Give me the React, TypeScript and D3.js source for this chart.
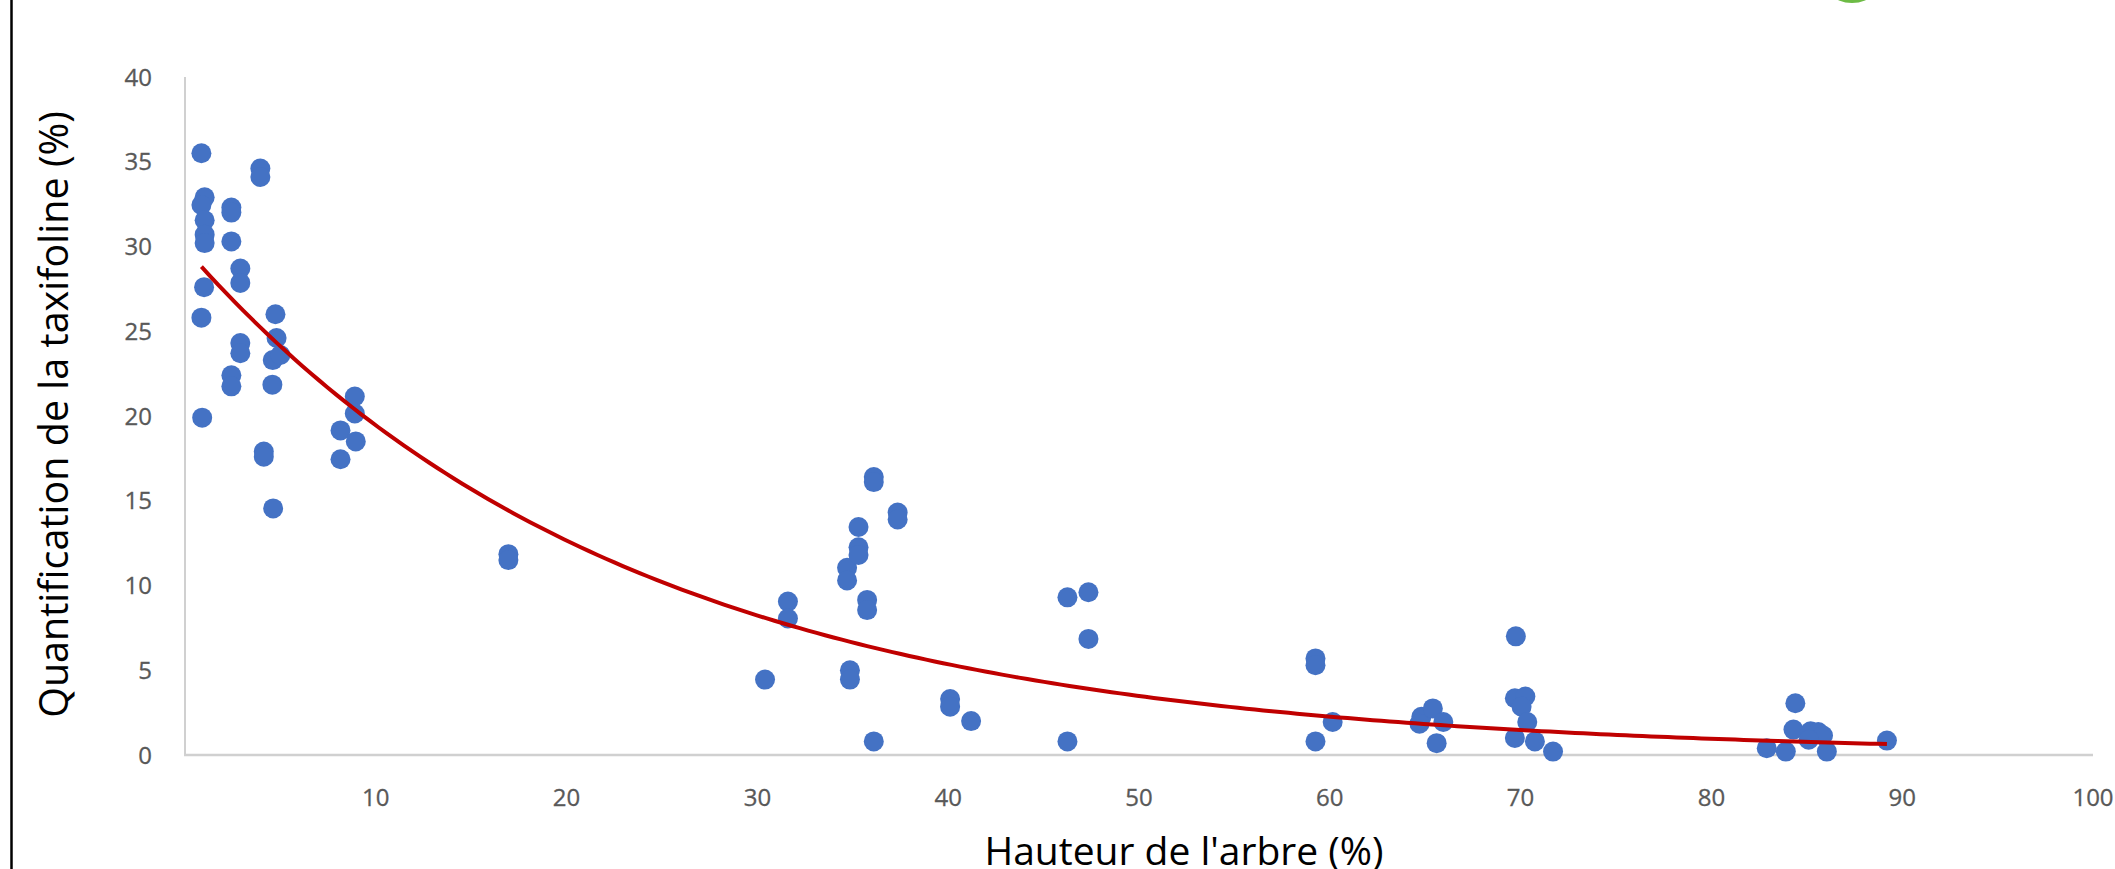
import React from "react";
import * as d3 from "d3";

// Scatter data: tree height (%) vs taxifolin quantification (%)
const HEIGHTS: number[] = [
  0.86, 3.95, 3.95, 1.03, 0.86, 1.03, 1.03, 1.03, 2.43, 2.43,
  2.43, 2.9, 2.9, 1.0, 0.86, 4.74, 4.8, 2.9, 2.9, 4.6,
  5.0, 2.43, 2.43, 4.58, 0.9, 8.9, 8.9, 8.15, 8.95, 8.15,
  4.13, 4.13, 4.62, 16.95, 16.95, 30.4, 31.6, 31.6, 34.7, 34.7,
  34.85, 34.85, 35.3, 35.3, 35.3, 35.75, 35.75, 36.1, 36.1, 36.1,
  37.35, 37.35, 40.1, 40.1, 41.2, 46.25, 46.25, 47.35, 47.35, 59.25,
  59.25, 59.25, 60.15, 64.8, 65.4, 65.95, 64.7, 65.6, 69.75, 69.7,
  70.25, 70.05, 70.35, 69.7, 70.75, 71.7, 82.9, 83.9, 84.4, 84.3,
  85.2, 85.6, 85.85, 85.1, 86.05, 89.2,
];
const TAXIFOLIN: number[] = [
  35.5, 34.6, 34.1, 32.9, 32.45, 31.55, 30.7, 30.2, 32.3, 32.0,
  30.3, 28.7, 27.85, 27.6, 25.8, 26.0, 24.6, 24.3, 23.7, 23.3,
  23.6, 22.4, 21.75, 21.85, 19.9, 21.15, 20.15, 19.15, 18.5, 17.45,
  17.9, 17.6, 14.55, 11.85, 11.5, 4.45, 9.05, 8.05, 11.05, 10.3,
  5.0, 4.45, 13.45, 12.25, 11.8, 9.15, 8.55, 16.4, 16.1, 0.8,
  14.3, 13.9, 3.3, 2.85, 2.0, 9.3, 0.8, 9.6, 6.85, 5.7,
  5.3, 0.8, 1.95, 2.25, 2.75, 1.95, 1.85, 0.7, 7.0, 3.35,
  3.45, 2.85, 1.95, 1.0, 0.8, 0.2, 0.4, 0.2, 3.05, 1.5,
  1.4, 1.35, 1.15, 0.9, 0.2, 0.85,
];

// Exponential trendline y = A * exp(B * x) (coefficients)
const TREND_A = 29.9;
const TREND_B = -0.043;

const X_TICKS: number[] = [10, 20, 30, 40, 50, 60, 70, 80, 90, 100];
const Y_TICKS: number[] = [0, 5, 10, 15, 20, 25, 30, 35, 40];

const X_TITLE = "Hauteur de l'arbre (%)";
const Y_TITLE = "Quantification de la taxifoline (%)";

const W = 2115;
const H = 869;

export default function App() {
  const x = d3.scaleLinear().domain([0, 100]).range([185, 2093]);
  const y = d3.scaleLinear().domain([0, 40]).range([755, 77]);

  const pts = HEIGHTS.map((h, i) => ({ h, v: TAXIFOLIN[i] }));
  const xMin = d3.min(HEIGHTS) as number;
  const xMax = d3.max(HEIGHTS) as number;
  const steps = 200;
  const trendPts = d3
    .range(steps + 1)
    .map((i) => xMin + ((xMax - xMin) * i) / steps)
    .map((h) => [h, TREND_A * Math.exp(TREND_B * h)] as [number, number]);
  const line = d3
    .line<[number, number]>()
    .x((d) => x(d[0]))
    .y((d) => y(d[1]));

  const tickFont = "'Open Sans', 'Liberation Sans', sans-serif";

  return (
    <svg
      width={W}
      height={H}
      style={{ position: "fixed", left: 0, top: 0, background: "#fff" }}
    >
      <rect x={0} y={0} width={W} height={H} fill="#fff" />
      {/* frame border on the left */}
      <line x1={11.5} x2={11.5} y1={0} y2={H} stroke="#000" strokeWidth={2.5} />
      {/* partial green logo at top */}
      <circle cx={1852} cy={-31} r={34} fill="#6dbb45" />

      {/* axes */}
      <line x1={x(0)} x2={x(0)} y1={y(40)} y2={y(0)} stroke="#d0d0d0" strokeWidth={2} />
      <line x1={x(0) - 1} x2={x(100)} y1={y(0)} y2={y(0)} stroke="#d0d0d0" strokeWidth={2.5} />

      {/* y tick labels */}
      {Y_TICKS.map((t) => (
        <text
          key={"y" + t}
          x={152}
          y={y(t)}
          dy="0.36em"
          textAnchor="end"
          fontFamily={tickFont}
          fontSize={24}
          fill="#595959"
          stroke="#595959"
          strokeWidth={0.3}
        >
          {t}
        </text>
      ))}
      {/* x tick labels */}
      {X_TICKS.map((t) => (
        <text
          key={"x" + t}
          x={x(t)}
          y={806}
          textAnchor="middle"
          fontFamily={tickFont}
          fontSize={24}
          fill="#595959"
          stroke="#595959"
          strokeWidth={0.3}
        >
          {t}
        </text>
      ))}

      {/* points */}
      {pts.map((p, i) => (
        <circle key={i} cx={x(p.h)} cy={y(p.v)} r={10} fill="#4472c4" />
      ))}

      {/* trendline */}
      <path d={line(trendPts) || ""} fill="none" stroke="#c00000" strokeWidth={4} />

      {/* axis titles */}
      <text
        x={1184}
        y={865}
        textAnchor="middle"
        fontFamily="'Open Sans', sans-serif"
        fontSize={39}
        fill="#000"
      >
        {X_TITLE}
      </text>
      <text
        transform="translate(68,414.5) rotate(-90)"
        textAnchor="middle"
        fontFamily="'Open Sans', sans-serif"
        fontSize={39.5}
        fill="#000"
      >
        {Y_TITLE}
      </text>
    </svg>
  );
}
